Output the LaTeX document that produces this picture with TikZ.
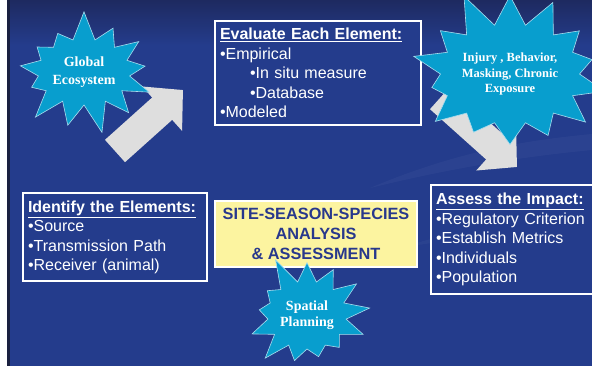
\documentclass[tikz,border=0pt]{standalone}
\usepackage{fontspec}
\setmainfont{Liberation Serif}
\setsansfont{Liberation Sans}
\usetikzlibrary{arrows.meta, shapes.symbols}

\definecolor{bgBlue}{RGB}{36,60,140}
\definecolor{bgTop}{RGB}{30,42,96}
\definecolor{stripNavy}{RGB}{26,32,64}
\definecolor{burstCyan}{RGB}{8,158,206}
\definecolor{arrowGrey}{RGB}{222,222,222}
\definecolor{panelYellow}{RGB}{252,244,160}
\definecolor{titleBlue}{RGB}{40,56,140}

\tikzset{
  panel/.style={draw=white, line width=2pt, fill=bgBlue, text=white,
    anchor=north west, align=left, inner xsep=5pt,
    font=\sffamily\fontsize{16}{19.5}\selectfont},
  burst/.style={shape=starburst, fill=burstCyan, draw=burstCyan!35!white,
    line width=0.6pt, text=white, align=center, inner sep=1pt,
    starburst points=13, starburst point height=30pt},
  bigarrow/.style={arrowGrey, line width=30pt,
    -{Triangle[length=28pt, width=58pt]}}
}

\begin{document}
\begin{tikzpicture}[x=1pt, y=-1pt]
  \useasboundingbox (0,0) rectangle (592,366);
  \clip (0,0) rectangle (592,366);

  % background and left edge
  \fill[bgBlue] (0,0) rectangle (592,366);
  \shade[top color=bgTop, bottom color=bgBlue] (0,0) rectangle (592,45);
  \fill[white] (0,0) rectangle (7,366);
  \fill[stripNavy] (7,0) rectangle (10,366);

  % faint swooshes on the right
  \fill[white, opacity=0.035] (370,188) .. controls (460,150) and (530,140) .. (592,134)
    -- (592,150) .. controls (530,156) and (460,166) .. (370,188) -- cycle;
  \fill[white, opacity=0.03] (400,248) .. controls (470,226) and (530,218) .. (592,214)
    -- (592,228) .. controls (530,232) and (470,236) .. (400,248) -- cycle;

  % grey arrows
  \coordinate (evalTail) at (115,151);
  \coordinate (evalTip) at (183,90);
  \draw[bigarrow] (evalTail) -- (evalTip);
  \coordinate (impactTail) at (440,98);
  \coordinate (impactTip) at (517,167);
  \draw[bigarrow] (impactTail) -- (impactTip);

  % boxes
  \node[panel, inner ysep=7pt, text width=196pt] (evaluate) at (214,20)
    {\textbf{\underline{Evaluate Each Element:}}\\
     •Empirical\\
     \hspace*{30pt}•In situ measure\\
     \hspace*{30pt}•Database\\
     •Modeled};
  \node[panel, inner ysep=7.5pt, text width=174pt] (identify) at (22,192)
    {\textbf{\underline{Identify the Elements:}}\\
     •Source\\
     •Transmission Path\\
     •Receiver (animal)};
  \node[panel, inner ysep=8pt, text width=190pt] (assess) at (430,184)
    {\textbf{\underline{Assess the Impact:}}\\
     •Regulatory Criterion\\
     •Establish Metrics\\
     •Individuals\\
     •Population};
  \node[panel, fill=panelYellow, text=titleBlue, align=center,
    minimum width=202pt, minimum height=66pt,
    font=\sffamily\bfseries\fontsize{16.3}{19.7}\selectfont] (analysis) at (214,200)
    {SITE-SEASON-SPECIES\\ANALYSIS\\\& ASSESSMENT};

  % starbursts
  \node[burst, minimum width=128pt, minimum height=126pt, random starburst=7,
    font=\bfseries\fontsize{14}{18}\selectfont] (globe) at (84,72)
    {Global\\Ecosystem};
  \node[burst, minimum width=172pt, minimum height=176pt, random starburst=11,
    starburst points=14, starburst point height=38pt,
    font=\bfseries\fontsize{12.5}{15.5}\selectfont] (injury) at (510,74)
    {Injury , Behavior,\\Masking, Chronic\\Exposure};
  \node[burst, minimum width=128pt, minimum height=128pt, random starburst=5,
    font=\bfseries\fontsize{14}{16}\selectfont] (spatial) at (307,315)
    {Spatial\\Planning};
\end{tikzpicture}
\end{document}
